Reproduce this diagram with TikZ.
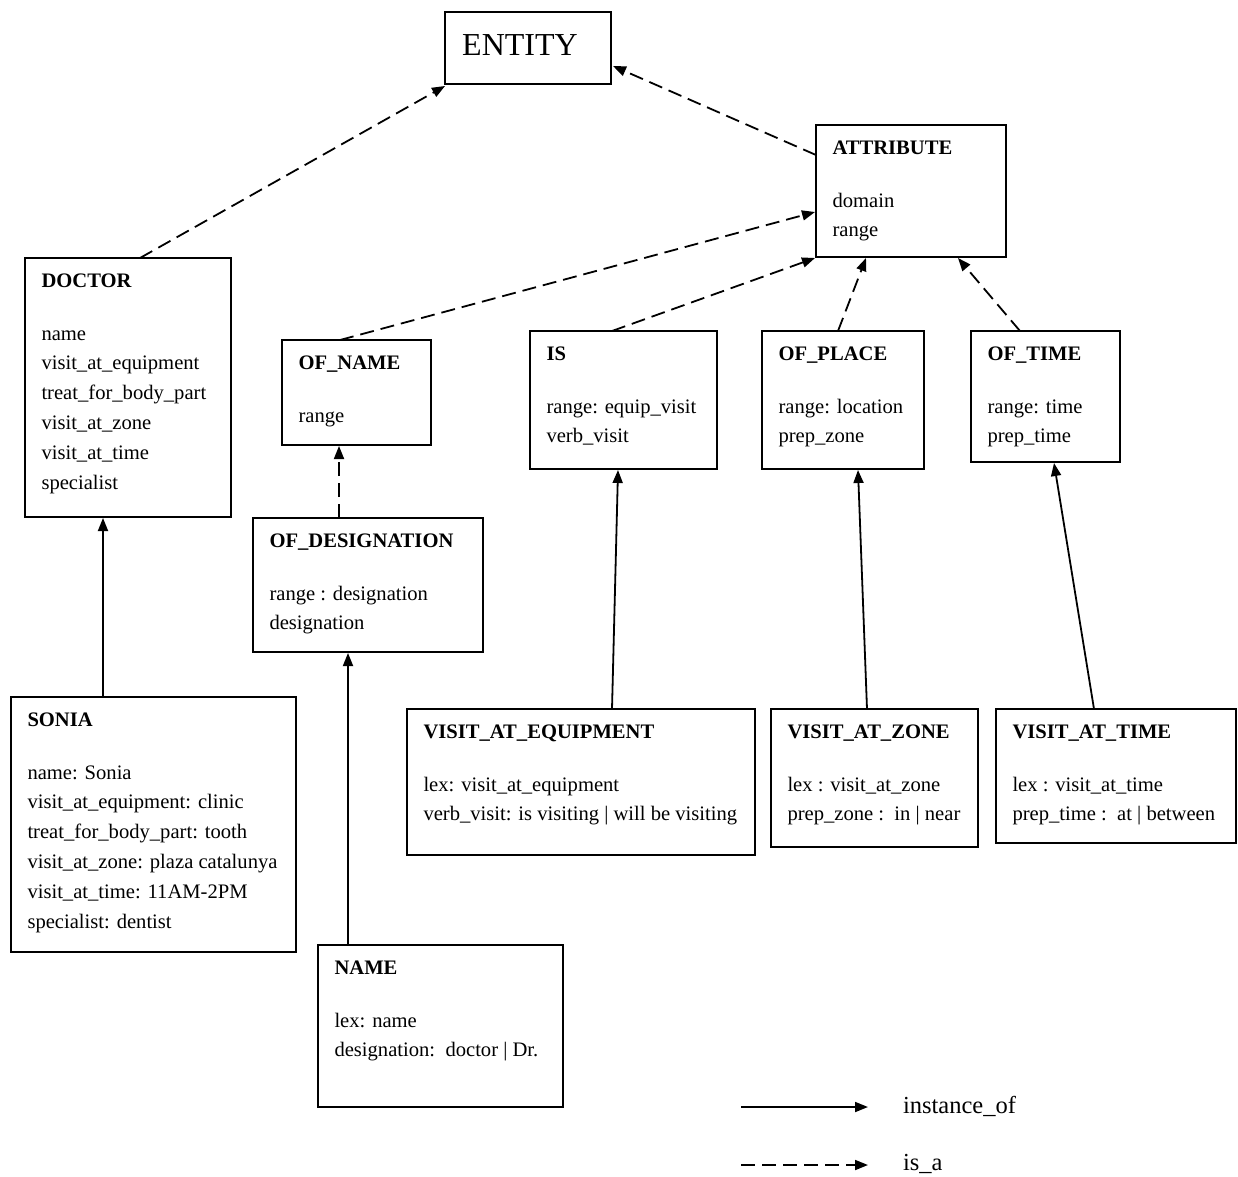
\documentclass[tikz,border=0pt]{standalone}
\usepackage{fontspec}
\setmainfont{Liberation Serif}
\usetikzlibrary{arrows.meta,calc}
\tikzset{
  umlbox/.style={draw, line width=1.7pt, rectangle, inner sep=0pt, outer sep=0pt},
  txt/.style={inner sep=0pt, outer sep=0pt, anchor=base west, font=\fontsize{20.6}{29.8}\selectfont},
  legtxt/.style={inner sep=0pt, outer sep=0pt, anchor=base west, font=\fontsize{24.5}{29.8}\selectfont},
  isa/.style={line width=1.8pt, dash pattern=on 14pt off 7pt, -{Triangle[length=13pt,width=10pt]}},
  inst/.style={line width=1.8pt, -{Triangle[length=13pt,width=10pt]}},
}
\newcommand\umlb[6]{%
  \node[umlbox, minimum width={(#4-#2)*1pt}, minimum height={(#5-#3)*1pt}] (#1) at ({(#2+#4)/2},{(#3+#5)/2}) {};
  \node[txt] (#1-t) at ({#2+16.5},{#3+29}) {\begin{tabular}[t]{@{}l@{}}#6\end{tabular}};
}
\begin{document}
\begin{tikzpicture}[x=1pt,y=-1pt]
\useasboundingbox (0,0) rectangle (1238,1176);
% ENTITY
\node[umlbox, minimum width=166pt, minimum height=72pt] (entity) at (528,48) {};
\node[inner sep=0pt, font=\fontsize{32}{36}\selectfont] (entity-t) at (520,45) {ENTITY};
\umlb{attribute}{816}{125}{1006}{257}{\textbf{ATTRIBUTE}\\[23.2pt] domain\\ range}
\umlb{doctor}{25}{258}{231}{517}{\textbf{DOCTOR}\\[23.2pt] name\\ visit\_at\_equipment\\ treat\_for\_body\_part\\ visit\_at\_zone\\ visit\_at\_time\\ specialist}
\umlb{ofname}{282}{340}{431}{445}{\textbf{OF\_NAME}\\[23.2pt] range}
\umlb{is}{530}{331}{717}{469}{\textbf{IS}\\[23.2pt] range: equip\_visit\\ verb\_visit}
\umlb{ofplace}{762}{331}{924}{469}{\textbf{OF\_PLACE}\\[23.2pt] range: location\\ prep\_zone}
\umlb{oftime}{971}{331}{1120}{462}{\textbf{OF\_TIME}\\[23.2pt] range: time\\ prep\_time}
\umlb{ofdes}{253}{518}{483}{652}{\textbf{OF\_DESIGNATION}\\[23.2pt] range : designation\\ designation}
\umlb{sonia}{11}{697}{296}{952}{\textbf{SONIA}\\[23.2pt] name: Sonia\\ visit\_at\_equipment: clinic\\ treat\_for\_body\_part: tooth\\ visit\_at\_zone: plaza catalunya\\ visit\_at\_time: 11AM-2PM\\ specialist: dentist}
\umlb{vae}{407}{709}{755}{855}{\textbf{VISIT\_AT\_EQUIPMENT}\\[23.2pt] lex: visit\_at\_equipment\\ verb\_visit: is visiting | will be visiting}
\umlb{vaz}{771}{709}{978}{847}{\textbf{VISIT\_AT\_ZONE}\\[23.2pt] lex : visit\_at\_zone\\ prep\_zone :\ \ in | near}
\umlb{vat}{996}{709}{1236}{843}{\textbf{VISIT\_AT\_TIME}\\[23.2pt] lex : visit\_at\_time\\ prep\_time :\ \ at | between}
\umlb{name}{318}{945}{563}{1107}{\textbf{NAME}\\[23.2pt] lex: name\\ designation:\ \ doctor | Dr.}
% is_a
\draw[isa] ($(doctor.north west)+(115,0)$) -- ($(entity.south west)+(0,2)$);
\draw[isa] ($(attribute.north west)+(0,30)$) -- ($(entity.north east)+(2,54)$);
\draw[isa] ($(ofname.north west)+(58,0)$) -- ($(attribute.north west)+(-1,87)$);
\draw[isa] ($(is.north west)+(82,0)$) -- ($(attribute.south west)+(-1,1)$);
\draw[isa] ($(ofplace.north west)+(76,0)$) -- ($(attribute.south west)+(50,1)$);
\draw[isa] ($(oftime.north west)+(49,0)$) -- ($(attribute.south west)+(142,1)$);
\draw[isa] ($(ofdes.north west)+(86,0)$) -- ($(ofname.south west)+(57,1)$);
% instance_of
\draw[inst] ($(sonia.north west)+(92,0)$) -- ($(doctor.south west)+(78,1)$);
\draw[inst] ($(name.north west)+(30,0)$) -- ($(ofdes.south west)+(95,1)$);
\draw[inst] ($(vae.north west)+(205,0)$) -- ($(is.south west)+(88,1)$);
\draw[inst] ($(vaz.north west)+(96,0)$) -- ($(ofplace.south west)+(96,1)$);
\draw[inst] ($(vat.north west)+(98,0)$) -- ($(oftime.south west)+(83,1)$);
% legend
\coordinate (l1a) at (741,1107);
\coordinate (l1b) at (868,1107);
\coordinate (l2a) at (741,1165);
\coordinate (l2b) at (868,1165);
\draw[inst] (l1a) -- (l1b);
\draw[isa] (l2a) -- (l2b);
\node[legtxt] (leg1) at (903,1113) {instance\_of};
\node[legtxt] (leg2) at (903,1170) {is\_a};
\end{tikzpicture}
\end{document}
